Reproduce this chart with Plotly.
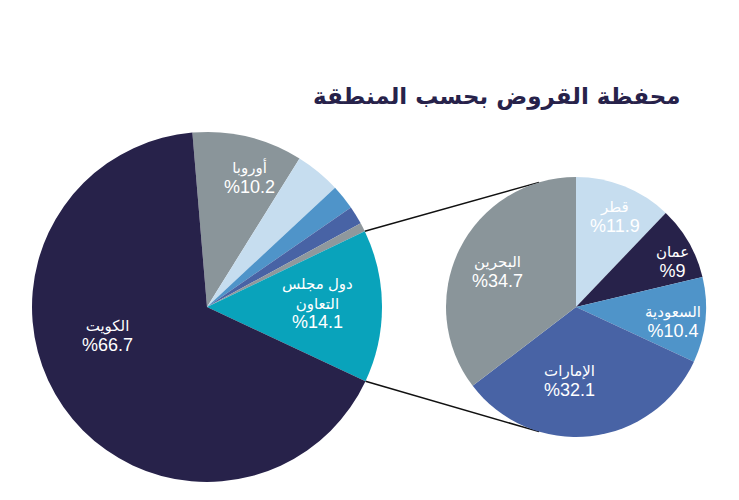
import math
import plotly.graph_objects as go

# ---------------- data ----------------
title_text = "محفظة القروض بحسب المنطقة"

region_labels = ["أوروبا", "أخرى 1", "أخرى 2", "أخرى 3", "أخرى 4", "دول مجلس<br>التعاون", "الكويت"]
region_values = [10.2, 4.2, 2.3, 1.7, 0.8, 14.1, 66.7]
region_show = [True, False, False, False, False, True, True]

gcc_labels = ["قطر", "عمان", "السعودية", "الإمارات", "البحرين"]
gcc_values = [11.9, 9, 10.4, 32.1, 34.7]

# ---------------- styles ----------------
W, H = 739, 500
OFF = 8  # page body margin
NAVY = "#27224a"
GREY = "#8a959a"
LIGHT = "#c6ddef"
MID = "#4f94c9"
SLATE = "#4863a5"
GREY2 = "#8f989d"
TEAL = "#09a3bb"

region_colors = [GREY, LIGHT, MID, SLATE, GREY2, TEAL, NAVY]
gcc_colors = [LIGHT, NAVY, MID, SLATE, GREY]

C1, R1 = (207, 307), 175
C2, R2 = (576, 307), 130
ROT1 = -4.8
ROT2 = 0


def px2paper(x, y):
    return (x - OFF) / W, 1 - (y - OFF) / H


def domain(c, r):
    x0, y1 = px2paper(c[0] - r, c[1] - r)
    x1, y0 = px2paper(c[0] + r, c[1] + r)
    return dict(x=[x0, x1], y=[y0, y1])


fig = go.Figure()
fig.add_trace(go.Pie(
    labels=region_labels, values=region_values, sort=False,
    direction="clockwise", rotation=ROT1,
    marker=dict(colors=region_colors, line=dict(width=0)),
    textinfo="none", hoverinfo="label+value", showlegend=False,
    domain=domain(C1, R1),
))
fig.add_trace(go.Pie(
    labels=gcc_labels, values=gcc_values, sort=False,
    direction="clockwise", rotation=ROT2,
    marker=dict(colors=gcc_colors, line=dict(width=0)),
    textinfo="none", hoverinfo="label+value", showlegend=False,
    domain=domain(C2, R2),
))

# label positions (pixel) for slice labels
region_label_pos = [(250, 177), None, None, None, None, (317, 303), (107, 336)]
gcc_label_pos = [(615, 217), (672, 262), (673, 322), (569, 381), (497, 272)]

annotations = []
def add_label(text, val, pos):
    x, y = px2paper(*pos)
    annotations.append(dict(
        x=x, y=y, xref="paper", yref="paper", showarrow=False,
        text=f"{text}<br><span style='font-size:18px'>%{val:g}</span>",
        font=dict(family="Liberation Sans, DejaVu Sans, Arial", size=15, color="white"),
        align="center", xanchor="center", yanchor="middle",
    ))

for lab, val, pos, show in zip(region_labels, region_values, region_label_pos, region_show):
    if show and pos:
        add_label(lab, val, pos)
for lab, val, pos in zip(gcc_labels, gcc_values, gcc_label_pos):
    add_label(lab, val, pos)

# title
tx, ty = px2paper(683, 97)
annotations.append(dict(
    x=tx, y=ty, xref="paper", yref="paper", showarrow=False,
    text=f"<b>{title_text}</b>",
    font=dict(family="DejaVu Sans", size=23, color=NAVY),
    xanchor="right", yanchor="middle",
))

# connector lines from GCC slice edges to right pie
total = sum(region_values)
gcc_idx = 5
start_frac = sum(region_values[:gcc_idx]) / total
end_frac = sum(region_values[:gcc_idx + 1]) / total
a_start = math.radians(ROT1 + start_frac * 360)
a_end = math.radians(ROT1 + end_frac * 360)

def on_circle(c, r, ang):
    return c[0] + r * math.sin(ang), c[1] - r * math.cos(ang)

p1 = on_circle(C1, R1, a_start)
p2 = on_circle(C1, R1, a_end)
q1 = on_circle(C2, R2, math.radians(343.5))
q2 = on_circle(C2, R2, math.radians(196.5))

shapes = []
for a, b in [(p1, q1), (p2, q2)]:
    x0, y0 = px2paper(*a)
    x1, y1 = px2paper(*b)
    shapes.append(dict(type="line", xref="paper", yref="paper",
                       x0=x0, y0=y0, x1=x1, y1=y1,
                       line=dict(color="#111111", width=1.5), layer="below"))

fig.update_layout(
    width=W, height=H,
    margin=dict(l=0, r=0, t=0, b=0),
    paper_bgcolor="white", plot_bgcolor="white",
    annotations=annotations, shapes=shapes,
)

fig.write_html("out.html")
